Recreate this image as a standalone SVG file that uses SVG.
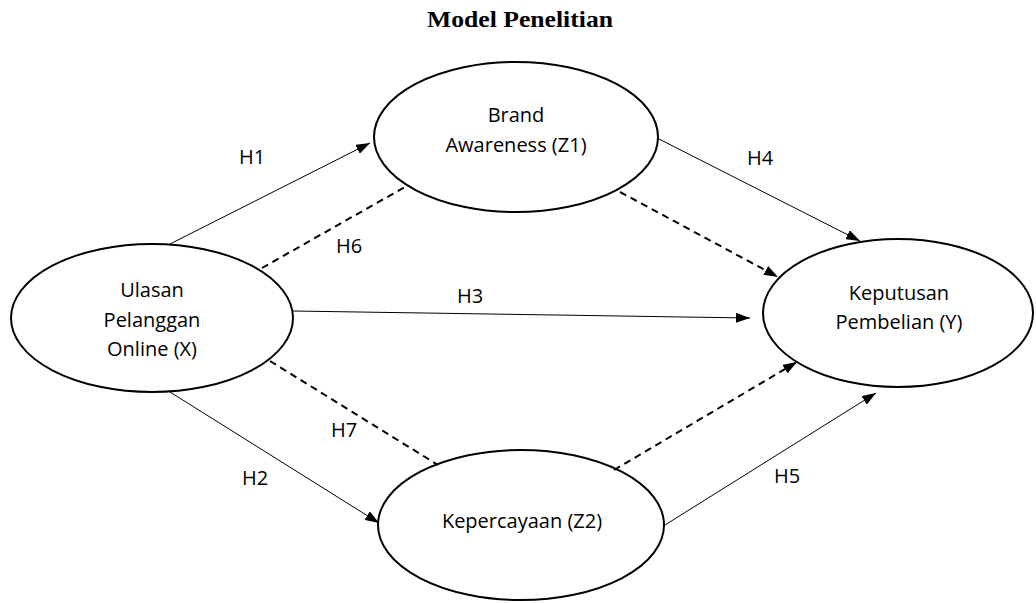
<svg xmlns="http://www.w3.org/2000/svg" width="1036" height="603" viewBox="0 0 1036 603">
<style>
.node{fill:#fff;stroke:#000;stroke-width:2}
.t{font-family:"Open Sans","Noto Sans",sans-serif;font-size:20px;fill:#000;text-anchor:middle}
.ln{stroke:#000;stroke-width:1;fill:none}
.ds{stroke:#000;stroke-width:2;fill:none;stroke-dasharray:7,5}
</style>
<defs>
<marker id="ah" markerWidth="14" markerHeight="10" refX="14" refY="5" orient="auto" markerUnits="userSpaceOnUse">
<path d="M0,0 L14,5 L0,10 Z" fill="#000"/>
</marker>
</defs>
<rect width="1036" height="603" fill="#fff"/>
<text x="520" y="27" font-family="Liberation Serif,serif" font-size="24" font-weight="bold" text-anchor="middle" textLength="186" lengthAdjust="spacingAndGlyphs">Model Penelitian</text>
<g id="X">
<ellipse class="node" cx="152" cy="318" rx="141" ry="74"/>
<text class="t" x="152" y="297">Ulasan</text>
<text class="t" x="152" y="327">Pelanggan</text>
<text class="t" x="152" y="356">Online (X)</text>
</g>
<g id="Z1">
<ellipse class="node" cx="516" cy="137" rx="142" ry="75"/>
<text class="t" x="516" y="122">Brand</text>
<text class="t" x="516" y="152">Awareness (Z1)</text>
</g>
<g id="Y">
<ellipse class="node" cx="898" cy="313" rx="135" ry="74"/>
<text class="t" x="899" y="300">Keputusan</text>
<text class="t" x="899" y="329">Pembelian (Y)</text>
</g>
<g id="Z2">
<ellipse class="node" cx="521" cy="525" rx="143" ry="75"/>
<text class="t" x="522" y="528">Kepercayaan (Z2)</text>
</g>
<g id="connectors">
<line class="ln" x1="170" y1="244" x2="370" y2="143" marker-end="url(#ah)"/>
<line class="ds" x1="262" y1="268" x2="405" y2="187"/>
<line class="ln" x1="657" y1="138" x2="860" y2="241" marker-end="url(#ah)"/>
<line class="ds" x1="620" y1="192" x2="778" y2="277" marker-end="url(#ah)"/>
<line class="ln" x1="293" y1="311" x2="750" y2="318" marker-end="url(#ah)"/>
<line class="ds" x1="270" y1="361" x2="438" y2="465"/>
<line class="ln" x1="170" y1="392" x2="379" y2="523" marker-end="url(#ah)"/>
<line class="ds" x1="614" y1="470" x2="797" y2="362" marker-end="url(#ah)"/>
<line class="ln" x1="665" y1="525" x2="876" y2="393" marker-end="url(#ah)"/>
<text class="t" x="252" y="164">H1</text>
<text class="t" x="349" y="253">H6</text>
<text class="t" x="470" y="303">H3</text>
<text class="t" x="760" y="165">H4</text>
<text class="t" x="344" y="437">H7</text>
<text class="t" x="255" y="485">H2</text>
<text class="t" x="787" y="483">H5</text>
</g>
</svg>
